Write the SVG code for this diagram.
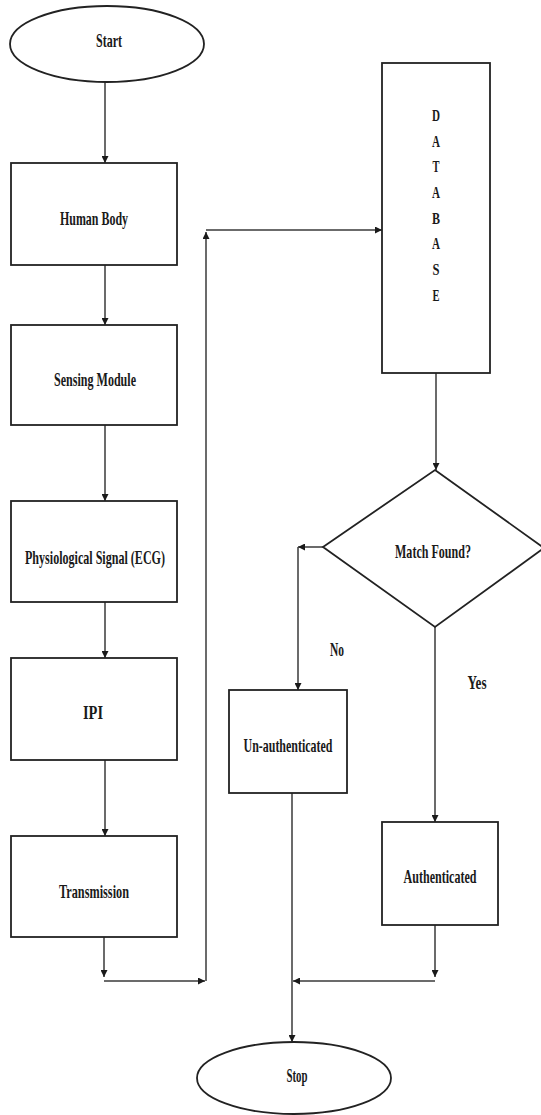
<svg xmlns="http://www.w3.org/2000/svg" width="541" height="1115" viewBox="0 0 541 1115">
  <style>
    .shape { fill: #ffffff; stroke: #222222; stroke-width: 1.8; }
    .conn { fill: none; stroke: #3a3a3a; stroke-width: 1.5; }
    .lbl { font-family: "Liberation Serif", "Times New Roman", serif; font-weight: bold; font-size: 19px; fill: #1a1a1a; text-anchor: middle; }
    .db { font-family: "Liberation Serif", "Times New Roman", serif; font-weight: bold; font-size: 16px; fill: #1a1a1a; text-anchor: middle; }
  </style>
  <defs>
    <marker id="arr" viewBox="0 0 10 10" refX="10" refY="5" markerWidth="8" markerHeight="7" markerUnits="userSpaceOnUse" orient="auto">
      <path d="M0,0 L10,5 L0,10 z" fill="#1a1a1a"/>
    </marker>
  </defs>
  <rect width="541" height="1115" fill="#ffffff"/>

  <g id="connectors">
    <path class="conn" d="M105,82 V163" marker-end="url(#arr)"/>
    <path class="conn" d="M105,265 V325" marker-end="url(#arr)"/>
    <path class="conn" d="M105,425 V501" marker-end="url(#arr)"/>
    <path class="conn" d="M105,602 V658" marker-end="url(#arr)"/>
    <path class="conn" d="M105,760 V836" marker-end="url(#arr)"/>
    <path class="conn" d="M104,937 V977" marker-end="url(#arr)"/>
    <path class="conn" d="M104,981 H205" marker-end="url(#arr)"/>
    <path class="conn" d="M206,981 V232" marker-end="url(#arr)"/>
    <path class="conn" d="M206,230 H382" marker-end="url(#arr)"/>
    <path class="conn" d="M436,373 V470" marker-end="url(#arr)"/>
    <path class="conn" d="M323,547 H298" marker-end="url(#arr)"/>
    <path class="conn" d="M298,547 V690" marker-end="url(#arr)"/>
    <path class="conn" d="M435,627 V822" marker-end="url(#arr)"/>
    <path class="conn" d="M435,925 V977" marker-end="url(#arr)"/>
    <path class="conn" d="M435,981 H293" marker-end="url(#arr)"/>
    <path class="conn" d="M292,793 V1042" marker-end="url(#arr)"/>
    <text class="lbl" x="337" y="656" textLength="14" lengthAdjust="spacingAndGlyphs">No</text>
    <text class="lbl" x="477" y="689" textLength="19" lengthAdjust="spacingAndGlyphs">Yes</text>
  </g>

  <g id="start">
    <ellipse class="shape" cx="107" cy="44" rx="97" ry="38"/>
    <text class="lbl" x="109" y="47" textLength="26" lengthAdjust="spacingAndGlyphs">Start</text>
  </g>
  <g id="human-body">
    <rect class="shape" x="11" y="163" width="166" height="102"/>
    <text class="lbl" x="94" y="225" textLength="68" lengthAdjust="spacingAndGlyphs">Human Body</text>
  </g>
  <g id="sensing-module">
    <rect class="shape" x="11" y="325" width="166" height="100"/>
    <text class="lbl" x="95" y="386" textLength="82" lengthAdjust="spacingAndGlyphs">Sensing Module</text>
  </g>
  <g id="physiological-signal">
    <rect class="shape" x="11" y="501" width="166" height="101"/>
    <text class="lbl" x="95" y="564" textLength="140" lengthAdjust="spacingAndGlyphs">Physiological Signal (ECG)</text>
  </g>
  <g id="ipi">
    <rect class="shape" x="11" y="658" width="166" height="102"/>
    <text class="lbl" x="93" y="719" textLength="20" lengthAdjust="spacingAndGlyphs">IPI</text>
  </g>
  <g id="transmission">
    <rect class="shape" x="11" y="836" width="166" height="101"/>
    <text class="lbl" x="94" y="898" textLength="70" lengthAdjust="spacingAndGlyphs">Transmission</text>
  </g>
  <g id="database">
    <rect class="shape" x="382" y="63" width="108" height="310"/>
    <text class="db" x="436" y="121" textLength="8" lengthAdjust="spacingAndGlyphs">D</text>
    <text class="db" x="436" y="147" textLength="8" lengthAdjust="spacingAndGlyphs">A</text>
    <text class="db" x="436" y="172" textLength="7" lengthAdjust="spacingAndGlyphs">T</text>
    <text class="db" x="436" y="198" textLength="8" lengthAdjust="spacingAndGlyphs">A</text>
    <text class="db" x="436" y="224" textLength="8" lengthAdjust="spacingAndGlyphs">B</text>
    <text class="db" x="436" y="249" textLength="8" lengthAdjust="spacingAndGlyphs">A</text>
    <text class="db" x="436" y="275" textLength="7" lengthAdjust="spacingAndGlyphs">S</text>
    <text class="db" x="436" y="301" textLength="7" lengthAdjust="spacingAndGlyphs">E</text>
  </g>
  <g id="match-found">
    <polygon class="shape" points="435,470 544,548 435,627 323,547"/>
    <text class="lbl" x="433" y="558" textLength="76" lengthAdjust="spacingAndGlyphs">Match Found?</text>
  </g>
  <g id="un-authenticated">
    <rect class="shape" x="229" y="690" width="118" height="103"/>
    <text class="lbl" x="288" y="752" textLength="89" lengthAdjust="spacingAndGlyphs">Un-authenticated</text>
  </g>
  <g id="authenticated">
    <rect class="shape" x="382" y="822" width="116" height="103"/>
    <text class="lbl" x="440" y="883" textLength="73" lengthAdjust="spacingAndGlyphs">Authenticated</text>
  </g>
  <g id="stop">
    <ellipse class="shape" cx="294" cy="1078" rx="97" ry="36"/>
    <text class="lbl" x="297" y="1082" textLength="21" lengthAdjust="spacingAndGlyphs">Stop</text>
  </g>
</svg>
